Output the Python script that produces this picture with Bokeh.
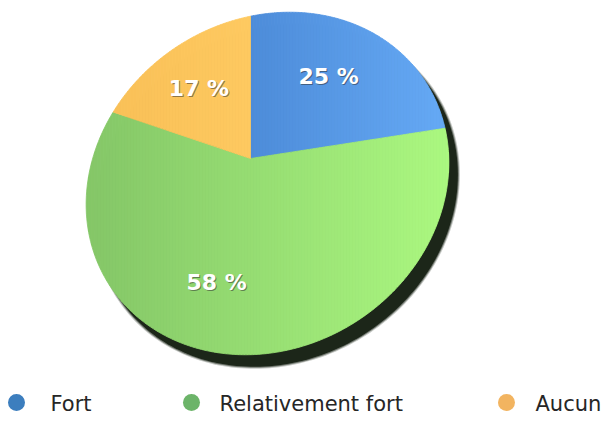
import numpy as np
from bokeh.plotting import figure
from bokeh.models import Range1d, ColumnDataSource
from bokeh.core.properties import value
from bokeh.embed import file_html
from bokeh.resources import INLINE

# ---- data ----
categories = ["Fort", "Relativement fort", "Aucun"]
values = [25, 58, 17]
labels = [f"{v} %" for v in values]

# ---- styles ----
slice_left = ["#4d8cd9", "#84c667", "#f9c057"]
slice_right = ["#65a9f5", "#abf880", "#fec960"]
legend_colors = ["#3c7ebe", "#6cb469", "#f2b460"]
shadow_color = "#1c2619"
text_color = "#262626"

W, H = 603, 414
APEX = np.array([250.0, -158.0])          # y-up screen coords
CENTER = np.array([267.0, -183.0])
QA, QB, QC = 3.086e-5, -0.8e-5, 3.46e-5   # outline: A x^2 + B x y + C y^2 = 1
SHEAR = np.array([[1.0, 0.0], [0.1555, 0.8975]])
SHADOW_SHIFT = np.array([9.0, -12.0])
LABEL_K = 0.65

legend_xy = [(16, 402), (191, 402), (506, 402)]
legend_tx = [50, 219, 535]
legend_ty = 403


def qform(u, v):
    return QA * u[0] * v[0] + QB / 2 * (u[0] * v[1] + u[1] * v[0]) + QC * u[1] * v[1]


def ray_len(d):
    p = APEX - CENTER
    a = qform(d, d)
    b = 2 * qform(p, d)
    c = qform(p, p) - 1
    return (-b + np.sqrt(b * b - 4 * a * c)) / (2 * a)


def direction(theta):
    v = SHEAR @ np.array([np.cos(theta), np.sin(theta)])
    return v / np.linalg.norm(v)


def clip(poly, x0, x1):
    def clip_edge(poly, keep, xc):
        out = []
        n = len(poly)
        for i in range(n):
            cur, prev = poly[i], poly[i - 1]
            def inter(p, q):
                t = (xc - p[0]) / (q[0] - p[0])
                return (xc, p[1] + t * (q[1] - p[1]))
            if keep(cur):
                if not keep(prev):
                    out.append(inter(prev, cur))
                out.append(cur)
            elif keep(prev):
                out.append(inter(prev, cur))
        return out
    poly = clip_edge(poly, lambda p: p[0] >= x0, x0)
    if len(poly) < 3:
        return []
    poly = clip_edge(poly, lambda p: p[0] <= x1, x1)
    return poly if len(poly) >= 3 else []


def hex2rgb(h):
    return np.array([int(h[i:i + 2], 16) for i in (1, 3, 5)], dtype=float)


def rgb2hex(c):
    return "#%02x%02x%02x" % tuple(int(round(v)) for v in c)


p = figure(width=W, height=H, x_range=Range1d(0, W), y_range=Range1d(H, 0),
           output_backend="svg", toolbar_location=None, min_border=0)
p.axis.visible = False
p.grid.visible = False
p.outline_line_color = None
p.background_fill_color = "white"
p.border_fill_color = "white"

# ---- shadow (outline shifted) ----
M = np.array([[QA, QB / 2], [QB / 2, QC]])
lam, vec = np.linalg.eigh(M)
t = np.linspace(0, 2 * np.pi, 240)
for grow, alpha in [(2.0, 0.25), (1.0, 0.5), (0.0, 1.0)]:
    radii = 1 / np.sqrt(lam) + grow
    e = (vec @ np.vstack([radii[0] * np.cos(t), radii[1] * np.sin(t)])).T + CENTER + SHADOW_SHIFT
    p.patch(e[:, 0], -e[:, 1], fill_color=shadow_color, fill_alpha=alpha, line_color=None)

# ---- slices ----
total = float(sum(values))
cum = np.concatenate([[0], np.cumsum(values)]) / total
xs_all, ys_all, cols_all = [], [], []
label_pos = []
for i, v in enumerate(values):
    f0, f1 = cum[i], cum[i + 1]
    thetas = np.pi / 2 - 2 * np.pi * np.linspace(f0, f1, 120)
    pts = [tuple(APEX)]
    for th in thetas:
        d = direction(th)
        pts.append(tuple(APEX + ray_len(d) * d))
    xmin = min(q[0] for q in pts)
    xmax = max(q[0] for q in pts)
    cl, cr = hex2rgb(slice_left[i]), hex2rgb(slice_right[i])
    step = 3.0
    x0 = np.floor(xmin)
    while x0 < xmax:
        x1 = x0 + step
        sub = clip(pts, x0, x1)
        if sub:
            frac = ((x0 + x1) / 2 - xmin) / max(xmax - xmin, 1)
            col = rgb2hex(cl + (cr - cl) * frac)
            xs_all.append([q[0] for q in sub])
            ys_all.append([-q[1] for q in sub])
            cols_all.append(col)
        x0 = x1
    mid = np.pi / 2 - 2 * np.pi * (f0 + f1) / 2
    d = direction(mid)
    lp = APEX + LABEL_K * ray_len(d) * d
    label_pos.append((lp[0], -lp[1]))

src = ColumnDataSource(dict(xs=xs_all, ys=ys_all, c=cols_all))
p.patches("xs", "ys", source=src, fill_color="c", line_color="c", line_width=0.8)

# ---- slice labels ----
lx = [q[0] for q in label_pos]
ly = [q[1] for q in label_pos]
p.text(x=[x + 1 for x in lx], y=[y + 1.5 for y in ly], text=labels,
       text_font=value("DejaVu Sans"), text_font_style="bold", text_font_size="22px",
       text_color="#333333", text_alpha=0.55, text_align="center", text_baseline="middle")
p.text(x=lx, y=ly, text=labels,
       text_font=value("DejaVu Sans"), text_font_style="bold", text_font_size="22px",
       text_color="white", text_align="center", text_baseline="middle")

# ---- legend ----
p.scatter(x=[q[0] for q in legend_xy], y=[q[1] for q in legend_xy],
          size=17, marker="circle", fill_color=legend_colors, line_color=None)
p.text(x=legend_tx, y=[legend_ty] * 3, text=categories,
       text_font=value("DejaVu Sans"), text_font_size="21px", text_color=text_color,
       text_align="left", text_baseline="middle")

open("out.html", "w").write(file_html(p, INLINE))
